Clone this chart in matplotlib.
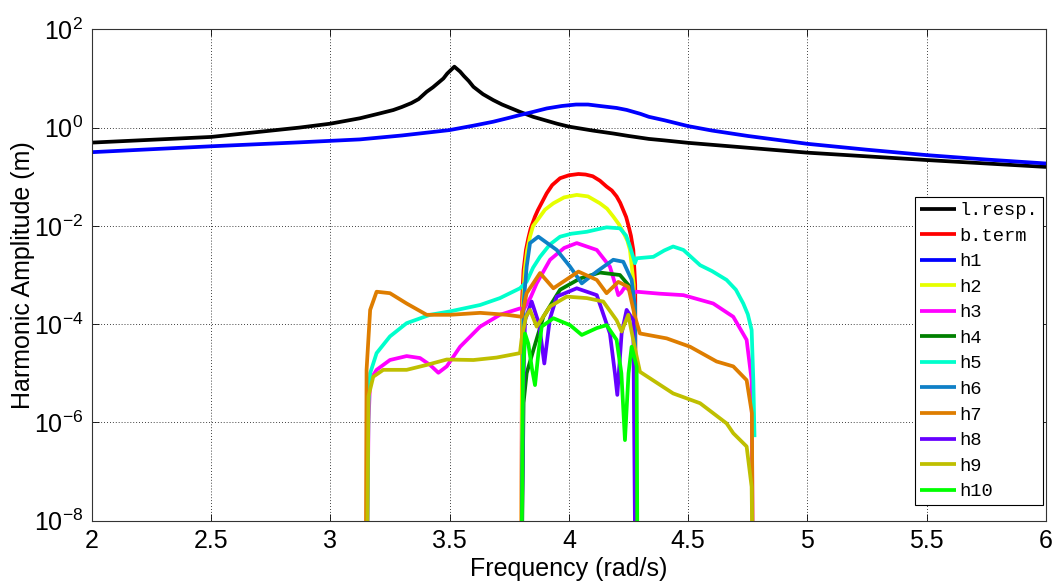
import numpy as np
import matplotlib.pyplot as plt

plt.rcParams['font.family'] = ['Liberation Sans', 'DejaVu Sans']
plt.rcParams['mathtext.fontset'] = 'custom'
plt.rcParams['mathtext.rm'] = 'Liberation Sans'
plt.rcParams['mathtext.it'] = 'Liberation Sans'

# amplitude curves, stored as log10 of the amplitude in m
lresp_x = [2.0, 2.5, 2.87, 3.0, 3.124, 3.2, 3.264, 3.3, 3.34, 3.37, 3.404, 3.43, 3.474, 3.49,
           3.52, 3.544, 3.56, 3.58, 3.6, 3.64, 3.683, 3.72, 3.74, 3.795, 3.85, 3.907, 3.95,
           4.0, 4.1, 4.186, 4.25, 4.335, 4.4, 4.5, 5.0, 5.5, 6.0]
lresp_log = [-0.305, -0.19, 0.0, 0.08, 0.19, 0.28, 0.358, 0.42, 0.5, 0.58, 0.73, 0.82, 1.0, 1.1,
             1.24, 1.14, 1.05, 0.95, 0.83, 0.68, 0.56, 0.47, 0.43, 0.32, 0.22, 0.14, 0.08,
             0.02, -0.06, -0.12, -0.17, -0.23, -0.26, -0.31, -0.51, -0.66, -0.80]

bterm_x = [3.800, 3.804, 3.81, 3.82, 3.83, 3.84, 3.858, 3.87, 3.907, 3.93, 3.963, 4.0, 4.04,
           4.07, 4.1, 4.13, 4.158, 4.18, 4.2, 4.215, 4.228, 4.24, 4.25, 4.26, 4.27, 4.278, 4.282]
bterm_log = [-10, -3.5, -2.9, -2.49, -2.25, -2.05, -1.81, -1.68, -1.337, -1.17, -1.03, -0.97,
             -0.944, -0.955, -0.99, -1.08, -1.20, -1.28, -1.40, -1.53, -1.68, -1.82, -2.0,
             -2.2, -2.49, -3.2, -10]

h1_x = [2.0, 2.5, 2.87, 3.124, 3.3, 3.5, 3.6, 3.683, 3.75, 3.795, 3.85, 3.907, 3.97, 4.03, 4.08,
        4.13, 4.2, 4.242, 4.3, 4.335, 4.4, 4.5, 4.6, 4.75, 5.0, 5.25, 5.5, 5.75, 6.0]
h1_log = [-0.50, -0.38, -0.30, -0.24, -0.16, -0.05, 0.04, 0.12, 0.2, 0.256, 0.32, 0.39, 0.44,
          0.47, 0.47, 0.44, 0.40, 0.36, 0.28, 0.22, 0.15, 0.03, -0.06, -0.17, -0.33, -0.45,
          -0.56, -0.65, -0.73]

h2_x = [3.80, 3.805, 3.815, 3.825, 3.837, 3.85, 3.879, 3.90, 3.935, 3.98, 4.033, 4.08, 4.13,
        4.16, 4.186, 4.21, 4.23, 4.245, 4.256, 4.272, 4.281]
h2_log = [-10, -3.8, -2.9, -2.5, -2.22, -2.0, -1.81, -1.67, -1.54, -1.42, -1.37, -1.40, -1.54,
          -1.65, -1.81, -1.97, -2.15, -2.3, -2.49, -3.2, -10]

h3_x = [3.152, 3.16, 3.167, 3.194, 3.25, 3.32, 3.376, 3.418, 3.453, 3.488, 3.544, 3.628, 3.711,
        3.795, 3.81, 3.84, 3.865, 3.921, 3.98, 4.033, 4.117, 4.172, 4.195, 4.207, 4.22, 4.235,
        4.27, 4.284, 4.38, 4.48, 4.605, 4.689, 4.745, 4.766, 4.772]
h3_log = [-10, -6.0, -5.14, -4.93, -4.73, -4.65, -4.69, -4.83, -4.99, -4.86, -4.46, -4.05, -3.81,
          -3.68, -3.71, -3.45, -3.17, -2.69, -2.45, -2.35, -2.49, -2.83, -3.2, -3.41, -3.35,
          -3.24, -3.37, -3.34, -3.38, -3.41, -3.58, -3.85, -4.32, -5.14, -10]

h4_x = [3.80, 3.81, 3.823, 3.851, 3.893, 3.963, 4.047, 4.13, 4.214, 4.256, 4.277, 4.282]
h4_log = [-10, -5.6, -5.0, -4.53, -3.85, -3.30, -3.07, -2.95, -3.0, -3.24, -3.64, -10]

h5_x = [3.152, 3.16, 3.167, 3.194, 3.25, 3.32, 3.418, 3.502, 3.628, 3.711, 3.795, 3.823, 3.85,
        3.879, 3.92, 3.963, 4.01, 4.075, 4.12, 4.158, 4.214, 4.24, 4.256, 4.277, 4.284, 4.354,
        4.4, 4.437, 4.48, 4.55, 4.6, 4.661, 4.7, 4.731, 4.75, 4.766, 4.773, 4.778]
h5_log = [-10, -5.6, -5.0, -4.59, -4.25, -3.98, -3.81, -3.74, -3.61, -3.47, -3.27, -3.135, -2.85,
          -2.63, -2.38, -2.22, -2.16, -2.12, -2.07, -2.03, -2.05, -2.2, -2.42, -2.76, -2.66,
          -2.63, -2.5, -2.42, -2.49, -2.80, -2.92, -3.10, -3.3, -3.58, -3.8, -4.12, -5.14, -6.3]

h6_x = [3.80, 3.81, 3.823, 3.837, 3.872, 3.949, 4.005, 4.054, 4.117, 4.186, 4.228, 4.263, 4.277,
        4.282]
h6_log = [-10, -3.6, -2.83, -2.35, -2.22, -2.49, -2.83, -3.17, -2.93, -2.69, -2.73, -3.10, -3.64,
          -10]

h7_x = [3.148, 3.152, 3.167, 3.194, 3.25, 3.32, 3.404, 3.502, 3.628, 3.739, 3.802, 3.823, 3.879,
        3.935, 4.04, 4.117, 4.158, 4.207, 4.249, 4.277, 4.298, 4.41, 4.508, 4.619, 4.689, 4.745,
        4.767, 4.772]
h7_log = [-10, -4.93, -3.71, -3.34, -3.37, -3.58, -3.81, -3.81, -3.77, -3.81, -3.85, -3.37, -2.96,
          -3.27, -2.93, -3.10, -3.37, -3.14, -3.24, -3.85, -4.19, -4.29, -4.46, -4.76, -4.86,
          -5.14, -5.81, -10]

h8_x = [3.80, 3.808, 3.816, 3.844, 3.875, 3.897, 3.92, 3.949, 4.033, 4.117, 4.172, 4.193, 4.203,
        4.221, 4.242, 4.27, 4.28]
h8_log = [-10, -5.54, -3.92, -3.54, -4.0, -4.80, -3.9, -3.44, -3.27, -3.41, -4.19, -5.0, -5.44,
          -4.19, -3.71, -3.92, -10]

h9_x = [3.152, 3.16, 3.18, 3.222, 3.32, 3.404, 3.488, 3.6, 3.697, 3.795, 3.802, 3.82, 3.837,
        3.865, 3.921, 3.991, 4.075, 4.144, 4.2, 4.221, 4.249, 4.277, 4.298, 4.437, 4.55, 4.661,
        4.689, 4.745, 4.766, 4.773]
h9_log = [-10, -5.47, -5.07, -4.93, -4.93, -4.83, -4.72, -4.73, -4.68, -4.59, -4.3, -3.85, -3.71,
          -4.05, -3.64, -3.44, -3.47, -3.54, -3.92, -4.15, -3.81, -4.5, -4.97, -5.41, -5.61,
          -6.02, -6.22, -6.49, -7.31, -10]

h10_x = [3.80, 3.808, 3.816, 3.83, 3.845, 3.858, 3.872, 3.886, 3.935, 4.005, 4.054, 4.117, 4.158,
         4.2, 4.22, 4.235, 4.25, 4.263, 4.284, 4.288]
h10_log = [-10, -5.0, -4.19, -4.4, -4.9, -5.24, -4.6, -4.05, -3.88, -4.02, -4.22, -4.08, -4.02,
           -4.32, -5.0, -6.36, -5.0, -4.46, -4.86, -10]

labels = ['l.resp.', 'b.term', 'h1', 'h2', 'h3', 'h4', 'h5', 'h6', 'h7', 'h8', 'h9', 'h10']
colors = ['k', (1, 0, 0), (0, 0, 1), (0.9, 1.0, 0.0), (1, 0, 1), (0, 0.5, 0),
          (0.0, 1.0, 0.8), (0.06, 0.5, 0.78), (0.87, 0.49, 0.0), (0.4, 0.0, 1.0),
          (0.75, 0.75, 0.0), (0.0, 1.0, 0.0)]
curves = [(lresp_x, lresp_log), (bterm_x, bterm_log), (h1_x, h1_log), (h2_x, h2_log),
          (h3_x, h3_log), (h4_x, h4_log), (h5_x, h5_log), (h6_x, h6_log), (h7_x, h7_log),
          (h8_x, h8_log), (h9_x, h9_log), (h10_x, h10_log)]

xticks = [2, 2.5, 3, 3.5, 4, 4.5, 5, 5.5, 6]
xtick_labels = ['2', '2.5', '3', '3.5', '4', '4.5', '5', '5.5', '6']
yticks = [1e2, 1e0, 1e-2, 1e-4, 1e-6, 1e-8]

fig = plt.figure(figsize=(10.58, 5.87), dpi=100)
ax = fig.add_axes([0.0867, 0.113, 0.902, 0.837])

for (xs, ls), lab, c in zip(curves, labels, colors):
    ax.semilogy(xs, 10.0 ** np.array(ls), color=c, lw=2.7, label=lab,
                solid_joinstyle='round', solid_capstyle='butt')

ax.set_xlim(2, 6)
ax.set_ylim(1e-8, 1e2)
ax.set_xticks(xticks)
ax.set_xticklabels(xtick_labels)
ax.set_yticks(yticks)
ax.minorticks_off()
ax.tick_params(direction='in', top=True, right=True, length=5, width=0.6, labelsize=18, pad=6)
ax.grid(True, color='k', linestyle=(0, (1, 2.5)), lw=0.6)
for s in ax.spines.values():
    s.set_linewidth(0.8)
    s.set_color('#333333')

ax.set_xlabel('Frequency (rad/s)', fontsize=18, labelpad=3)
ax.set_ylabel('Harmonic Amplitude (m)', fontsize=18, labelpad=-1)

leg = ax.legend(loc='lower right', bbox_to_anchor=(0.997, 0.032), borderaxespad=0,
                prop={'family': 'Liberation Mono', 'size': 13.5}, fancybox=False,
                edgecolor='k', framealpha=1, handlelength=1.92, handletextpad=0.2,
                labelspacing=0.45, borderpad=0.25)
leg.get_frame().set_linewidth(0.8)

fig.savefig('out.png', dpi=100)
